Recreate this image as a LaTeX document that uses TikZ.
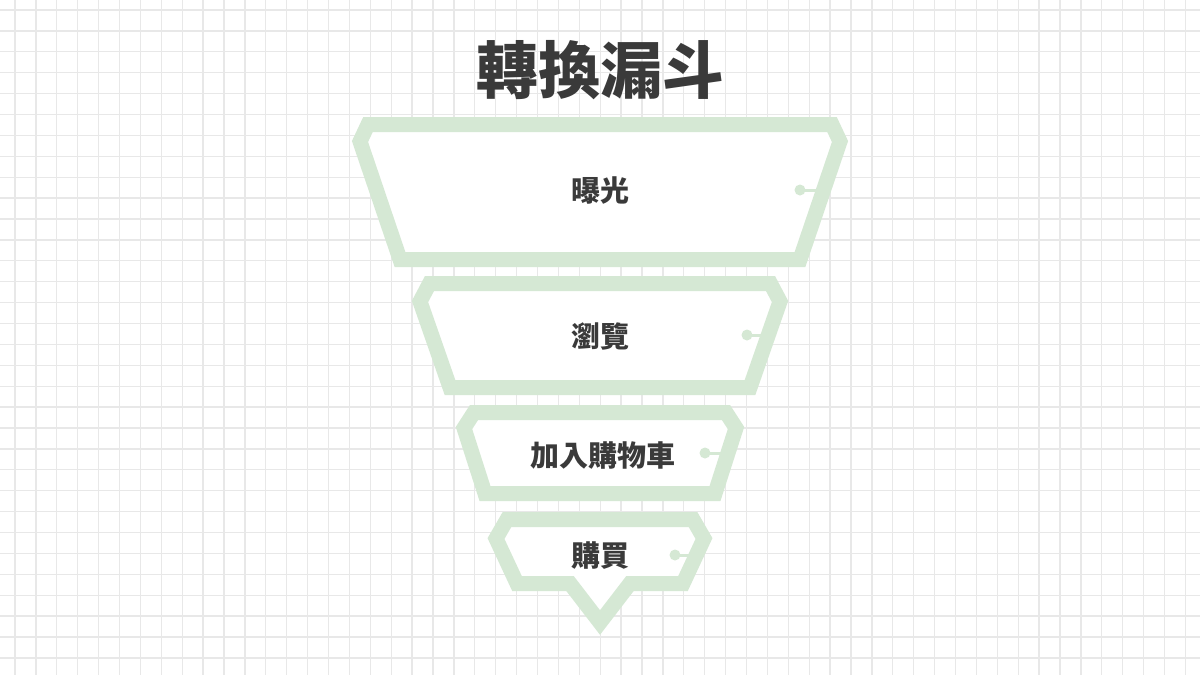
\documentclass[tikz,border=0pt]{standalone}
\usepackage{fontspec}
\newfontfamily\cjk{Noto Sans CJK TC}
\definecolor{gridc}{HTML}{E8E8E8}
\definecolor{band}{HTML}{D5E8D4}
\definecolor{txt}{HTML}{3A3A3A}
\tikzset{
  funnel/.style={draw=band, line width=15pt, fill=white, line join=miter},
  stubdot/.style={fill=band, draw=none, circle, minimum size=11pt, inner sep=0pt},
  stubline/.style={draw=band, line width=3pt},
  label/.style={text=txt, font=\cjk\bfseries\fontsize{29}{29}\selectfont, inner sep=0pt},
  titletext/.style={text=txt, font=\cjk\bfseries\fontsize{62}{62}\selectfont, inner sep=0pt}
}
\begin{document}
\begin{tikzpicture}[x=1pt,y=-1pt]
\useasboundingbox (0,0) rectangle (1200,675);
\fill[white] (0,0) rectangle (1200,675);
% grid
\foreach \k in {0,...,56} {
  \draw[gridc, line width=1.3pt] ({15+20.9*\k},0) -- ({15+20.9*\k},675);
}
\foreach \k in {0,...,31} {
  \draw[gridc, line width=1.3pt] (0,{10+20.9*\k}) -- (1200,{10+20.9*\k});
}
% title
\node[titletext] (title) at (600,70) {轉換漏斗};
% stage 1
\draw[funnel] (368,124.5) -- (832,124.5) -- (840,141.5) -- (800,259.5) -- (400,259.5) -- (360,141.5) -- cycle;
\coordinate (e1) at (819,190);
\node[stubdot] (d1) at (800,190) {};
\draw[stubline] (d1.center) -- (e1);
\node[label] (s1) at (600,191) {曝光};
% stage 2
\draw[funnel] (429.5,283.5) -- (770.5,283.5) -- (780,301.5) -- (750,387.5) -- (450,387.5) -- (420,301.5) -- cycle;
\coordinate (e2) at (762,335);
\node[stubdot] (d2) at (747,335) {};
\draw[stubline] (d2.center) -- (e2);
\node[label] (s2) at (600,336) {瀏覽};
% stage 3
\draw[funnel] (474,412.5) -- (726,412.5) -- (736,428) -- (715,493.5) -- (485,493.5) -- (464,428) -- cycle;
\coordinate (e3) at (721,453);
\node[stubdot] (d3) at (705,453) {};
\draw[stubline] (d3.center) -- (e3);
\node[label] (s3) at (603,456) {加入購物車};
% stage 4
\draw[funnel] (507,519.5) -- (693,519.5) -- (704,538.5) -- (683,583.5) -- (630,583.5) -- (600,622.5) -- (570,583.5) -- (517,583.5) -- (496,538.5) -- cycle;
\coordinate (e4) at (691,555);
\node[stubdot] (d4) at (675,555) {};
\draw[stubline] (d4.center) -- (e4);
\node[label] (s4) at (600,556) {購買};
\end{tikzpicture}
\end{document}
